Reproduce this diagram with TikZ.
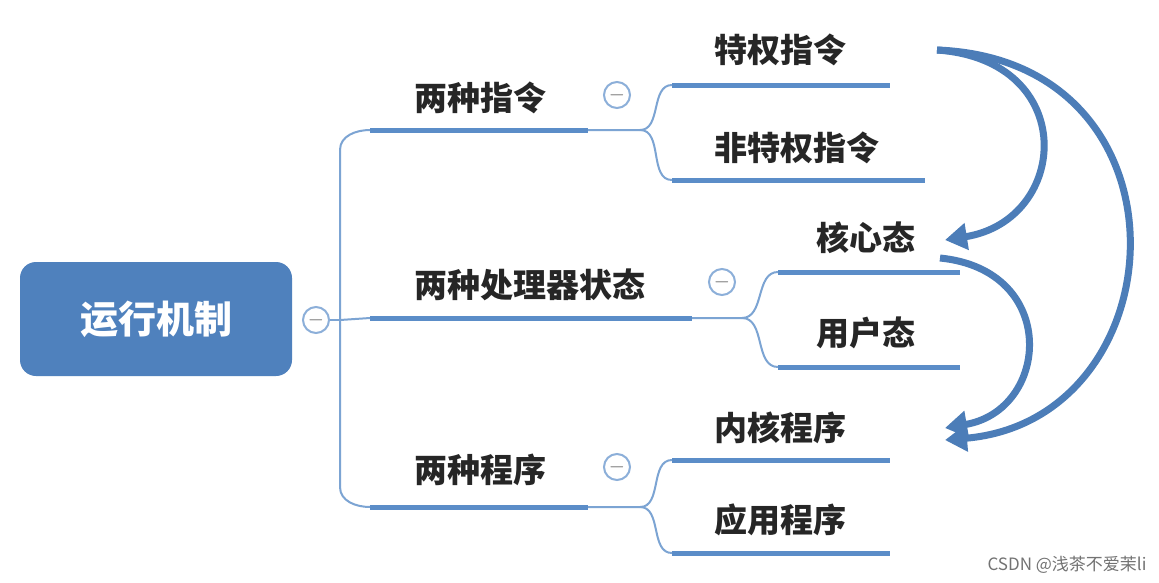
\documentclass[tikz,border=0pt]{standalone}
\usepackage{fontspec}
\setmainfont{Noto Sans CJK SC}
\usetikzlibrary{arrows.meta}
\definecolor{rootc}{HTML}{4F81BD}
\definecolor{linec}{HTML}{5B8DC8}
\definecolor{arrc}{HTML}{4C7DB8}
\begin{document}
\begin{tikzpicture}[x=1pt,y=-1pt,
  lbl/.style={font=\bfseries\fontsize{33}{34}\selectfont, text=black!85, inner sep=0},
  ul/.style={line width=5pt, linec},
  con/.style={line width=2pt, linec!80},
  col/.style={circle, draw=linec!70, line width=2pt, minimum size=26pt, inner sep=0, font=\fontsize{20}{20}\selectfont, text=black!60},
  big/.style={line width=7pt, arrc, -{Triangle[length=22pt,width=26pt]}}]
\useasboundingbox (0,0) rectangle (1159,582);
\fill[white] (0,0) rectangle (1159,582);
\node[fill=rootc, rounded corners=16pt, minimum width=272pt, minimum height=114pt, text=white, font=\bfseries\fontsize{38}{40}\selectfont] (root) at (156,319) {运行机制};
\node[col] (c0) at (316,320) {$-$};
% level 1
\draw[ul] (370,130) -- (588,130) coordinate (e1);
\draw[ul] (370,318) -- (692,318) coordinate (e2);
\draw[ul] (370,507) -- (588,507) coordinate (e3);
\node[lbl] (t1) at (480,98) {两种指令};
\node[lbl] (t2) at (530,285) {两种处理器状态};
\node[lbl] (t3) at (480,470) {两种程序};
\coordinate (j0) at (340,320);
\draw[con] (c0.east) -- (j0);
\draw[con] (j0) -- (340,150) to[out=90,in=180] (370,130);
\draw[con] (j0) -- (340,487) to[out=-90,in=180] (370,507);
\draw[con] (j0) -- (370,318);
\node[col] (c1) at (617,95) {$-$};
\node[col] (c2) at (722,282) {$-$};
\node[col] (c3) at (617,467) {$-$};
% level 2
\draw[ul] (672,85) -- (890,85); \node[lbl] at (780,50) {特权指令};
\draw[ul] (672,180) -- (925,180); \node[lbl] at (797,148) {非特权指令};
\draw[ul] (778,272) -- (960,272); \node[lbl] at (866,238) {核心态};
\draw[ul] (778,367) -- (960,367); \node[lbl] at (866,333) {用户态};
\draw[ul] (672,460) -- (890,460); \node[lbl] at (780,428) {内核程序};
\draw[ul] (672,553) -- (890,553); \node[lbl] at (780,520) {应用程序};
\draw[con] (e1) -- (640,130) to[out=0,in=180] (672,85);
\draw[con] (640,130) to[out=0,in=180] (672,180);
\draw[con] (e2) -- (742,318) to[out=0,in=180] (778,272);
\draw[con] (742,318) to[out=0,in=180] (778,367);
\draw[con] (e3) -- (640,507) to[out=0,in=180] (672,460);
\draw[con] (640,507) to[out=0,in=180] (672,553);
% arrows
\coordinate (a0) at (937,50);
\draw[big] (a0) .. controls (1080,60) and (1070,220) .. (945,240);
\draw[big] (a0) .. controls (1200,60) and (1180,420) .. (945,440);
\draw[big] (940,258) .. controls (1060,270) and (1050,410) .. (945,428);
\node[font=\fontsize{17}{18}\selectfont, text=black!55, anchor=east] (wm) at (1150,565) {CSDN @浅茶不爱茉li};
\end{tikzpicture}
\end{document}
